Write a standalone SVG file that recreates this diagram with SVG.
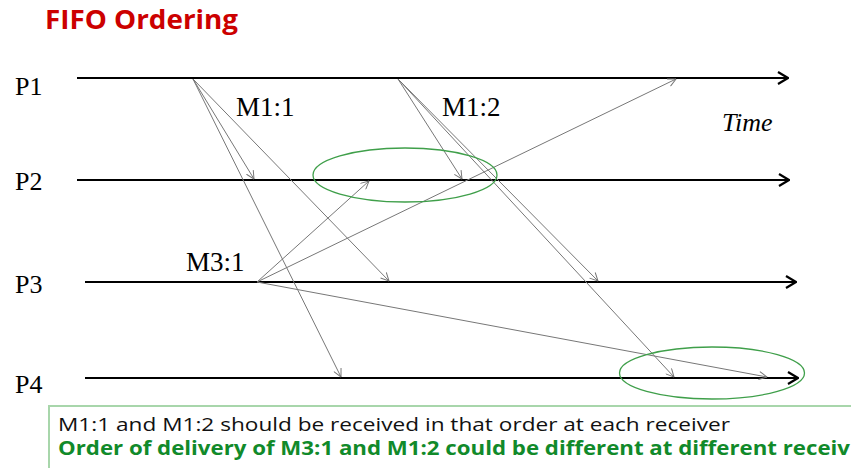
<svg xmlns="http://www.w3.org/2000/svg" width="851" height="468" viewBox="0 0 851 468">
<style>
.title{font-family:"Open Sans","Liberation Sans",sans-serif;font-weight:bold;font-size:27px;fill:#cc0000}
.plab{font-family:"Liberation Serif","Times New Roman",serif;font-size:26px;fill:#000}
.mlab{font-family:"Liberation Serif","Times New Roman",serif;font-size:27px;fill:#000}
.time{font-family:"Liberation Serif","Times New Roman",serif;font-size:26px;font-style:italic;fill:#000}
.tl{stroke:#000;stroke-width:2;fill:none}
.msg{stroke:#777;stroke-width:1;fill:none}
.ell{stroke:#3f9f4a;stroke-width:1.3;fill:none}
.note1{font-family:"Open Sans","Liberation Sans",sans-serif;font-size:19px;fill:#111}
.note2{font-family:"Open Sans","Liberation Sans",sans-serif;font-size:19px;font-weight:bold;fill:#118a2a}
</style>
<defs>
<marker id="big" viewBox="0 0 12 14" markerWidth="12" markerHeight="14" refX="11" refY="7" orient="auto" markerUnits="userSpaceOnUse">
<path d="M1,1 L11,7 L1,13" fill="none" stroke="#000" stroke-width="2.2"/>
</marker>
<marker id="sm" viewBox="0 0 9 9" markerWidth="9" markerHeight="9" refX="8.5" refY="4.5" orient="auto" markerUnits="userSpaceOnUse">
<path d="M0.5,0.5 L8.5,4.5 L0.5,8.5" fill="none" stroke="#777" stroke-width="1"/>
</marker>
</defs>
<rect width="851" height="468" fill="#fff"/>
<text class="title" x="45" y="29" textLength="193" lengthAdjust="spacingAndGlyphs">FIFO Ordering</text>

<g id="P1">
<text class="plab" x="15" y="95">P1</text>
<line class="tl" x1="77" y1="78" x2="788" y2="78" marker-end="url(#big)"/>
</g>
<g id="P2">
<text class="plab" x="15" y="190">P2</text>
<line class="tl" x1="77" y1="180" x2="789" y2="180" marker-end="url(#big)"/>
</g>
<g id="P3">
<text class="plab" x="15" y="293">P3</text>
<line class="tl" x1="85" y1="282" x2="796" y2="282" marker-end="url(#big)"/>
</g>
<g id="P4">
<text class="plab" x="15" y="393">P4</text>
<line class="tl" x1="85" y1="378" x2="798" y2="378" marker-end="url(#big)"/>
</g>
<g id="time">
<text class="time" x="722" y="131">Time</text>
</g>
<g id="labels">
<text class="mlab" x="236" y="116">M1:1</text>
<text class="mlab" x="442" y="116">M1:2</text>
<text class="mlab" x="186" y="271">M3:1</text>
</g>

<g id="connectors">
<line class="msg" x1="193" y1="79" x2="254" y2="179" marker-end="url(#sm)"/>
<line class="msg" x1="193" y1="79" x2="389" y2="281" marker-end="url(#sm)"/>
<line class="msg" x1="193" y1="79" x2="341" y2="377" marker-end="url(#sm)"/>
<line class="msg" x1="398" y1="79" x2="462" y2="179" marker-end="url(#sm)"/>
<line class="msg" x1="398" y1="79" x2="598" y2="281" marker-end="url(#sm)"/>
<line class="msg" x1="398" y1="79" x2="674" y2="377" marker-end="url(#sm)"/>
<line class="msg" x1="257" y1="282" x2="369" y2="181" marker-end="url(#sm)"/>
<line class="msg" x1="257" y1="282" x2="676" y2="79" marker-end="url(#sm)"/>
<line class="msg" x1="257" y1="282" x2="767" y2="377" marker-end="url(#sm)"/>
</g>

<g id="highlights">
<ellipse class="ell" cx="405" cy="175" rx="92" ry="27"/>
<ellipse class="ell" cx="712" cy="373" rx="92.5" ry="26"/>
</g>

<g id="note">
<rect x="49" y="406" width="830" height="80" fill="none" stroke="#a8d6ab" stroke-width="2"/>
<text class="note1" x="58" y="431" textLength="672" lengthAdjust="spacingAndGlyphs">M1:1 and M1:2 should be received in that order at each receiver</text>
<text class="note2" x="58" y="455" textLength="792" lengthAdjust="spacingAndGlyphs">Order of delivery of M3:1 and M1:2 could be different at different receiv</text>
</g>
</svg>
